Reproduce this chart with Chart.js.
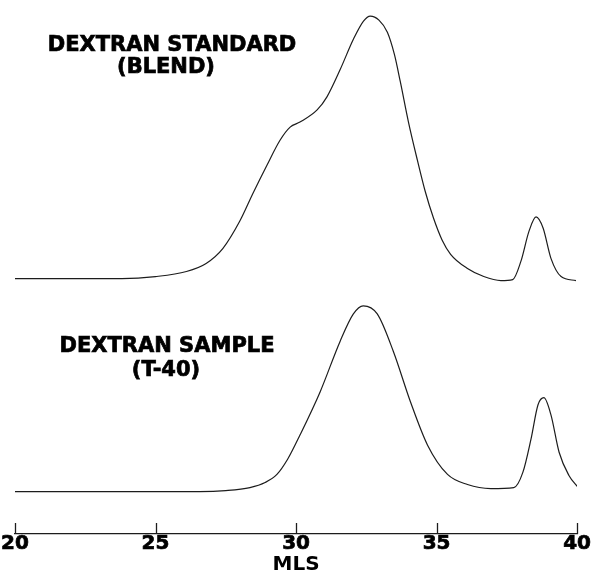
<!DOCTYPE html>
<html>
<head>
<meta charset="utf-8">
<script src="https://cdn.jsdelivr.net/npm/chart.js@4/dist/chart.umd.min.js"></script>
<style>
  html, body { margin: 0; padding: 0; background: #fff; }
  #wrap { width: 591px; height: 577px; position: relative; }
</style>
</head>
<body>
<div id="wrap"><canvas id="gpc"></canvas></div>
<script>
// elution volume (MLS) vs detector response, two traces stacked
const stdVol = [20.0, 22.0, 23.8, 25.0, 26.1, 26.8, 27.4, 28.0, 28.46, 28.96, 29.43, 29.79, 30.14, 30.75, 31.1, 31.57, 32.04, 32.4, 32.64, 32.95, 33.25, 33.5, 33.71, 34.0, 34.32, 34.6, 34.89, 35.2, 35.5, 36.1, 36.68, 37.29, 37.71, 38.0, 38.29, 38.54, 38.79, 39.07, 39.43, 39.96];
const stdResp = [0, 0, 0, 2, 7, 15, 30, 57, 84, 112, 137, 150, 155, 167, 180, 207, 237, 255, 260, 256, 244, 222, 195, 155, 117, 86, 60, 38, 24, 10, 2, -2, -1, 17, 47, 61, 50, 20, 2, -2];

const smpVol = [20.0, 22.0, 24.0, 26.57, 27.5, 28.36, 28.9, 29.32, 29.7, 30.14, 30.86, 31.57, 32.04, 32.39, 32.89, 33.46, 34.07, 34.68, 35.39, 36.1, 36.93, 37.75, 38.07, 38.36, 38.61, 38.82, 39.07, 39.36, 39.71, 40.04];
const smpResp = [0, 0, 0, 0, 1, 4, 9, 17, 32, 56, 99, 149, 176, 184, 176, 139, 89, 46, 17, 7, 3, 4, 19, 52, 86, 93, 76, 39, 16, 4];

const xTicks = [20, 25, 30, 35, 40];
const labels = [
  ["DEXTRAN STANDARD", "(BLEND)"],
  ["DEXTRAN SAMPLE", "(T-40)"]
];
const axisTitle = "MLS";

const toPts = (xs, ys) => xs.map((x, i) => ({ x: x, y: ys[i] }));
const INK = "#1c1c1c";
const BOLD = "bold 21px 'DejaVu Sans'";

const upTicks = {
  id: "upTicks",
  afterDraw(chart) {
    const ctx = chart.ctx, xs = chart.scales.x, base = chart.chartArea.bottom;
    ctx.save();
    ctx.strokeStyle = INK;
    ctx.lineWidth = 1.3;
    xTicks.forEach(v => {
      const px = Math.round(xs.getPixelForValue(v)) + 0.5;
      ctx.beginPath();
      ctx.moveTo(px, base);
      ctx.lineTo(px, base - 11);
      ctx.stroke();
    });
    ctx.restore();
  }
};

const headings = {
  id: "headings",
  afterDraw(chart) {
    const ctx = chart.ctx;
    const spots = [[[172, 46], [166, 68]], [[167, 347], [166, 371]]];
    ctx.save();
    ctx.fillStyle = "#000";
    ctx.strokeStyle = "#000";
    ctx.lineWidth = 0.7;
    ctx.font = BOLD;
    ctx.textAlign = "center";
    ctx.textBaseline = "middle";
    labels.forEach((pair, i) => {
      pair.forEach((t, j) => {
        ctx.fillText(t, spots[i][j][0], spots[i][j][1]);
        ctx.strokeText(t, spots[i][j][0], spots[i][j][1]);
      });
    });
    ctx.restore();
  }
};

new Chart(document.getElementById("gpc"), {
  type: "line",
  data: {
    datasets: [
      {
        data: toPts(stdVol, stdResp),
        yAxisID: "yTop",
        borderColor: INK,
        borderWidth: 1.2,
        pointRadius: 0,
        cubicInterpolationMode: "monotone",
        fill: false
      },
      {
        data: toPts(smpVol, smpResp),
        yAxisID: "yBot",
        borderColor: INK,
        borderWidth: 1.2,
        pointRadius: 0,
        cubicInterpolationMode: "monotone",
        fill: false
      }
    ]
  },
  options: {
    responsive: true,
    maintainAspectRatio: false,
    animation: false,
    layout: { padding: { left: 15, right: 8, top: 10, bottom: 2 } },
    plugins: { legend: { display: false }, tooltip: { enabled: false } },
    scales: {
      x: {
        type: "linear",
        min: 20,
        max: 40,
        afterBuildTicks: s => { s.ticks = xTicks.map(v => ({ value: v })); },
        grid: { display: true, drawOnChartArea: false, drawTicks: false, tickLength: 0 },
        border: { display: true, color: INK, width: 1.3 },
        ticks: {
          color: "#000",
          padding: 0,
          maxRotation: 0,
          textStrokeColor: "#000",
          textStrokeWidth: 0.7,
          font: { family: "'DejaVu Sans'", weight: "bold", size: 20, lineHeight: 1 }
        },
        title: {
          display: true,
          text: axisTitle,
          color: "#000",
          padding: { top: 1, bottom: 0 },
          font: { family: "'DejaVu Sans'", weight: "bold", size: 20, lineHeight: 1 }
        }
      },
      yTop: { type: "linear", display: false, min: -253, max: 266 },
      yBot: { type: "linear", display: false, min: -42, max: 477 }
    }
  },
  plugins: [upTicks, headings]
});
</script>
</body>
</html>
